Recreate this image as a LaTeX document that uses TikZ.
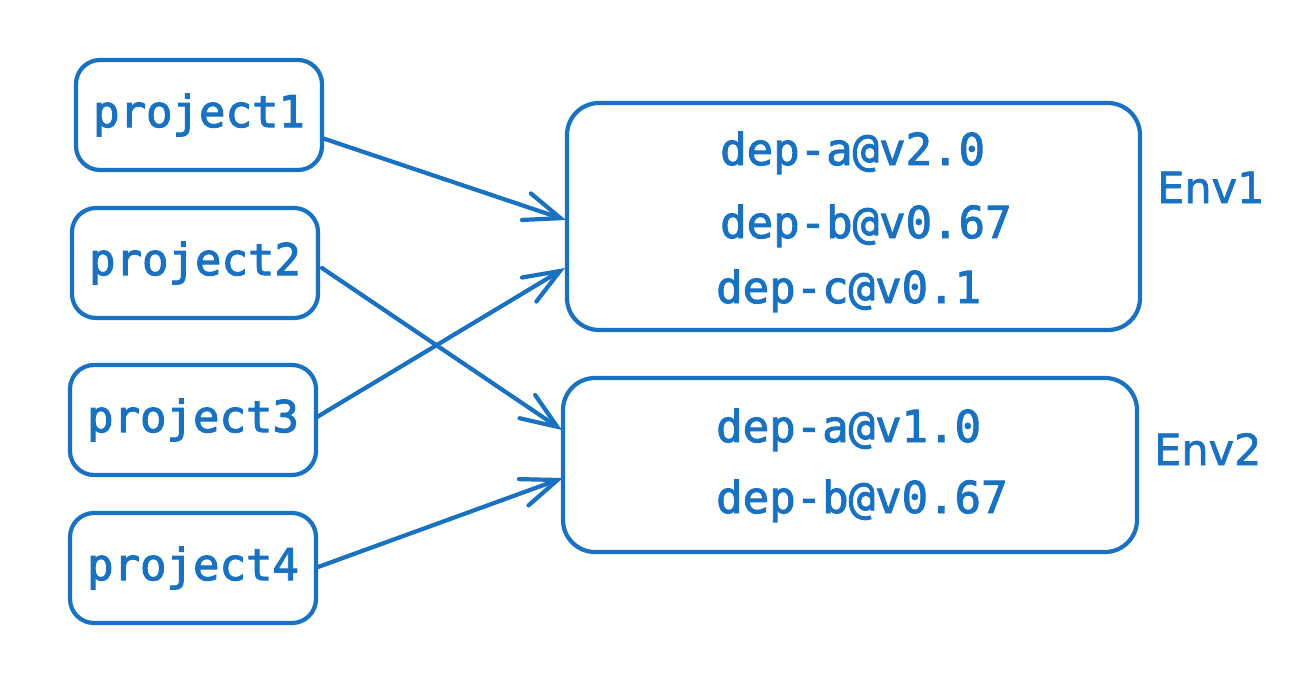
\documentclass[tikz,border=0pt]{standalone}
\usepackage{fontspec}
\setmonofont[FakeBold=2.2,AutoFakeBold=2.2]{DejaVu Sans Mono}
\newfontfamily\envfont[FakeBold=1.5]{DejaVu Sans}
\usetikzlibrary{arrows.meta}
\definecolor{exblue}{HTML}{1971C2}
\tikzset{
  projbox/.style={draw=exblue, line width=4.2pt, rounded corners=24pt, minimum width=246pt, minimum height=110pt, inner sep=0pt, text=exblue, font=\ttfamily\fontsize{44}{50}\selectfont},
  envbox/.style={draw=exblue, line width=4.2pt, rounded corners=32pt, inner sep=0pt},
  deptext/.style={anchor=base west, inner sep=0pt, text=exblue, font=\ttfamily\fontsize{44}{50}\selectfont},
  envlabel/.style={anchor=base west, inner sep=0pt, text=exblue, font=\envfont\fontsize{43}{50}\selectfont},
  link/.style={draw=exblue, line width=4.2pt, line cap=round, -{Straight Barb[length=36pt,width=28pt,line cap=round]}}
}
\begin{document}
\begin{tikzpicture}[x=1pt,y=-1pt]
\useasboundingbox (0,0) rectangle (1310,680);
\fill[white] (0,0) rectangle (1310,680);
\node[projbox] (p1) at (199,115) {project1};
\node[projbox] (p2) at (195,263) {project2};
\node[projbox] (p3) at (193,420) {project3};
\node[projbox] (p4) at (193,568) {project4};
\node[envbox, minimum width=573pt, minimum height=227pt] (e1) at (853.5,216.5) {};
\node[envbox, minimum width=574pt, minimum height=174pt] (e2) at (850,465) {};
\node[deptext] (d1) at (720,165) {dep-a@v2.0};
\node[deptext] (d2) at (720,238) {dep-b@v0.67};
\node[deptext] (d3) at (716,303) {dep-c@v0.1};
\node[deptext] (d4) at (716,442) {dep-a@v1.0};
\node[deptext] (d5) at (716,513) {dep-b@v0.67};
\node[envlabel] (l1) at (1157,203) {Env1};
\node[envlabel] (l2) at (1154,465) {Env2};
\coordinate (s1) at (322,138);
\coordinate (t1) at (566,220);
\coordinate (s2) at (322,268);
\coordinate (t2) at (562,430);
\coordinate (s3) at (317,417);
\coordinate (t3) at (565,268);
\coordinate (s4) at (318,567);
\coordinate (t4) at (563,478);
\draw[link] (s1) -- (t1);
\draw[link] (s2) -- (t2);
\draw[link] (s3) -- (t3);
\draw[link] (s4) -- (t4);
\end{tikzpicture}
\end{document}
